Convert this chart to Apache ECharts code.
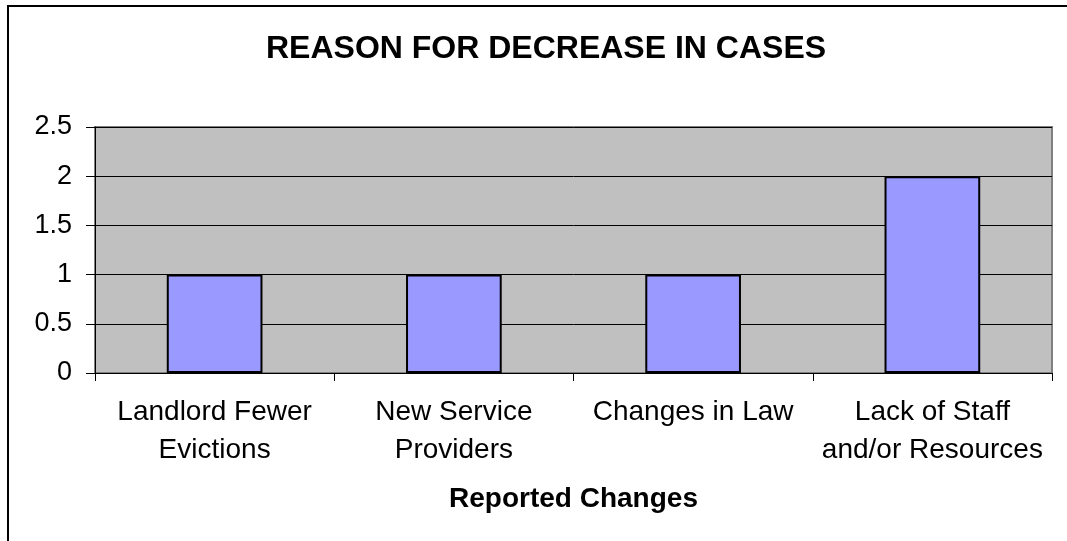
<!DOCTYPE html>
<html>
<head>
<meta charset="utf-8">
<script src="https://cdn.jsdelivr.net/npm/echarts@6/dist/echarts.min.js"></script>
<style>
  html, body { margin: 0; padding: 0; background: #ffffff; }
  #chart { width: 1067px; height: 541px; }
</style>
</head>
<body>
<div id="chart"></div>
<script>
// Reasons given for the decrease in cases
const categories = [
  'Landlord Fewer\nEvictions',
  'New Service\nProviders',
  'Changes in Law',
  'Lack of Staff\nand/or Resources'
];
const counts = [1, 1, 1, 2];
const yTicks = [0, 0.5, 1, 1.5, 2, 2.5];

const FONT = '"Liberation Sans", Arial, sans-serif';

const chart = echarts.init(document.getElementById('chart'), null, { renderer: 'canvas' });

chart.setOption({
  backgroundColor: '#ffffff',
  animation: false,
  title: {
    text: 'REASON FOR DECREASE IN CASES',
    left: 261,
    top: 28,
    textStyle: { fontFamily: FONT, fontSize: 32, fontWeight: 'bold', color: '#000000' }
  },
  graphic: [{
    type: 'rect',
    shape: { x: 8, y: 6, width: 1100, height: 600 },
    style: { fill: 'none', stroke: '#000000', lineWidth: 2 },
    silent: true,
    z: 100
  }],
  grid: {
    left: 95,
    right: 15,
    top: 127,
    bottom: 168,
    show: true,
    backgroundColor: '#C0C0C0',
    borderColor: '#808080',
    borderWidth: 2
  },
  xAxis: {
    type: 'category',
    data: categories,
    name: 'Reported Changes',
    nameLocation: 'middle',
    nameGap: 112,
    nameTextStyle: { fontFamily: FONT, fontSize: 28, fontWeight: 'bold', color: '#000000' },
    axisLine: { show: true, lineStyle: { color: '#000000', width: 1 } },
    axisTick: { show: true, length: 8, lineStyle: { color: '#000000' } },
    axisLabel: {
      fontFamily: FONT, fontSize: 28, color: '#000000',
      margin: 20, lineHeight: 38, interval: 0
    }
  },
  yAxis: {
    type: 'value',
    min: 0,
    max: 2.5,
    interval: 0.5,
    axisLine: { show: true, lineStyle: { color: '#000000', width: 1 } },
    axisTick: { show: true, length: 9, lineStyle: { color: '#000000' } },
    axisLabel: {
      fontFamily: FONT, fontSize: 27, color: '#000000', margin: 23,
      formatter: v => yTicks.includes(v) ? String(v) : ''
    },
    splitLine: { show: true, lineStyle: { color: '#000000', width: 1 } }
  },
  series: [{
    type: 'bar',
    data: counts,
    barWidth: '40%',
    itemStyle: { color: '#9999FF', borderColor: '#000000', borderWidth: 2 }
  }]
});
</script>
</body>
</html>
